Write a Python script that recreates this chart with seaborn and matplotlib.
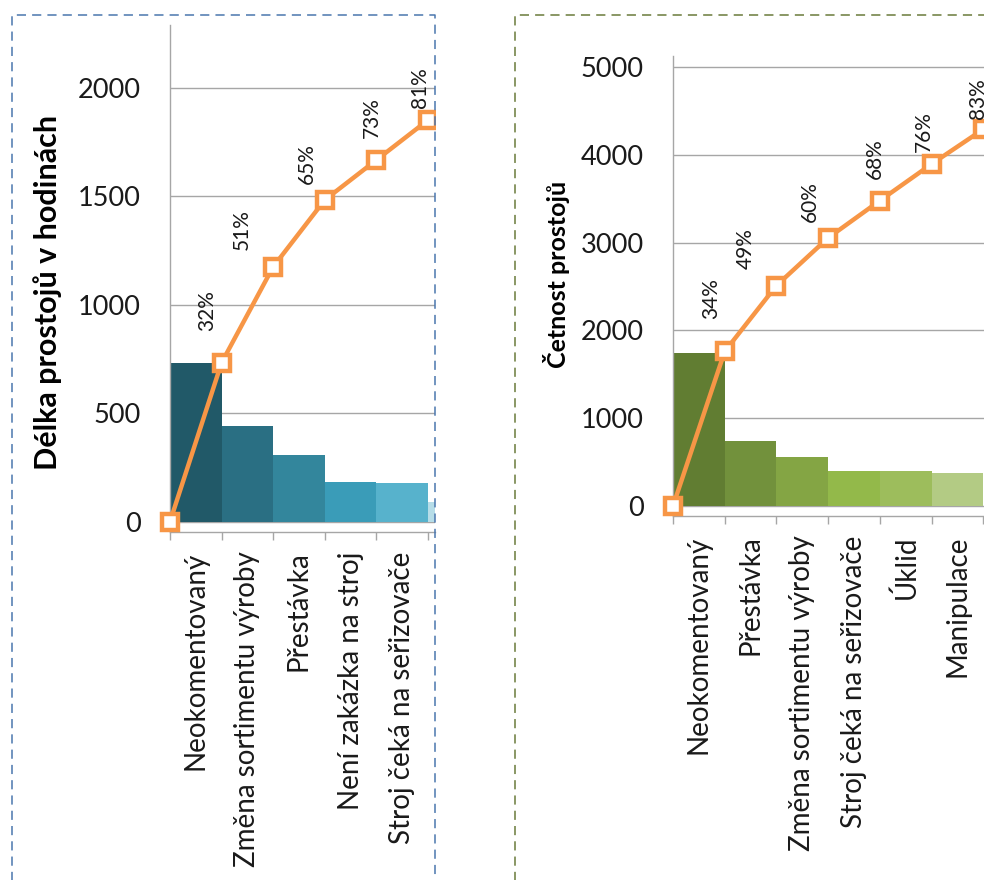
import numpy as np
import pandas as pd
import matplotlib
matplotlib.use('Agg')
import matplotlib.pyplot as plt
import seaborn as sns
from matplotlib.lines import Line2D
from matplotlib.transforms import Bbox, TransformedBbox

# levy graf - delka prostoju v hodinach (posledni sloupec je v obrazku oriznuty)
hours_cats = ['Neokomentovaný', 'Změna sortimentu výroby', 'Přestávka',
              'Není zakázka na stroj', 'Stroj čeká na seřizovače', '']
hours_vals = [730, 440, 305, 182, 176, 90]
hours_cum = [0, 732, 1174, 1482, 1666, 1850, 1940]
hours_pct = ['32%', '51%', '65%', '73%', '81%']

# pravy graf - cetnost prostoju
count_cats = ['Neokomentovaný', 'Přestávka', 'Změna sortimentu výroby',
              'Stroj čeká na seřizovače', 'Úklid', 'Manipulace']
count_vals = [1745, 740, 555, 400, 400, 372]
count_cum = [0, 1760, 2510, 3053, 3477, 3894, 4290]
count_pct = ['34%', '49%', '60%', '68%', '76%', '83%']

hours_colors = ['#215968', '#2a6f83', '#33869c', '#3a9cb8', '#57b2cc', '#b6dde8']
count_colors = ['#617d32', '#72913c', '#84a544', '#93b94a', '#9dbd5c', '#b3cb84']
orange = '#f79646'
grid_col = '#a6a6a6'

sns.set_theme(style='white')
plt.rcParams['font.family'] = ['Lato', 'DejaVu Sans']

W, H = 984, 880
fig = plt.figure(figsize=(W / 100, H / 100), dpi=100)
fig.patch.set_facecolor('white')


def box(l, t, r, b):
    return [l / W, 1 - b / H, (r - l) / W, (b - t) / H]


# posun popisku procent (px) - Excel je klade nepravidelne
label_dx = [-14, -31, -18, -5, -8, -5]
label_dy = [32, 17, 16, 22, 12, 10]


def pareto(ax, cats, vals, cum, pct, colors, ylim, yticks, xmax, clip_px=None):
    df = pd.DataFrame({'kat': cats, 'val': vals})
    sns.barplot(data=df, x='kat', y='val', hue='kat', palette=colors, width=1.0,
                linewidth=0, saturation=1, legend=False, ax=ax, zorder=2)
    edges = np.arange(len(cum)) - 0.5
    line = pd.DataFrame({'x': edges, 'y': cum})
    sns.lineplot(data=line, x='x', y='y', color=orange, lw=3.2, marker='s', markersize=11,
                 markerfacecolor='white', markeredgecolor=orange, markeredgewidth=3.2,
                 ax=ax, zorder=5, sort=False)
    ln = ax.lines[-1]
    if clip_px is None:
        ln.set_clip_on(False)
    else:
        # orez jen vpravo (okraj grafu), prvni znacka muze presahovat osu
        ln.set_clip_box(TransformedBbox(Bbox([[0, -1], [clip_px / W, 2]]), fig.transFigure))
    for k, txt in enumerate(pct):
        ax.annotate(txt, (edges[k + 1], cum[k + 1]), xytext=(label_dx[k], label_dy[k]),
                    textcoords='offset pixels', rotation=90, ha='center', va='bottom',
                    fontsize=15, color='#1a1a1a', zorder=6)

    ax.set_yticks(yticks)
    ax.yaxis.grid(True, color=grid_col, lw=1)
    ax.set_axisbelow(True)
    for s in ['top', 'right']:
        ax.spines[s].set_visible(False)
    for s in ['left', 'bottom']:
        ax.spines[s].set_color(grid_col)
        ax.spines[s].set_linewidth(1)
    ax.set_xticks(np.arange(len(cats)))
    ax.set_xticklabels(cats, rotation=90, ha='center', va='top')
    ax.set_xticks(edges[:len(cats) + 1], minor=True)
    ax.tick_params(axis='x', which='major', length=0, pad=14, labelsize=20, labelcolor='#1a1a1a')
    ax.tick_params(axis='x', which='minor', length=6, width=1, color=grid_col, direction='out',
                   bottom=True)
    ax.tick_params(axis='y', length=0, pad=21, labelsize=19.5, labelcolor='#1a1a1a')
    ax.set_xlabel('')
    ax.set_ylabel('')
    # limity az po nastaveni ticku, jinak je set_xticks roztahne
    ax.set_xlim(-0.5, xmax)
    ax.set_ylim(*ylim)


ax1 = fig.add_axes(box(170, 25, 435, 532))
pareto(ax1, hours_cats, hours_vals, hours_cum, hours_pct, hours_colors,
       (-48, 2288), [0, 500, 1000, 1500, 2000], -0.5 + 265 / 51.6, clip_px=435)

ax2 = fig.add_axes(box(673, 56, 673 + 7 * 51.7, 516))
pareto(ax2, count_cats, count_vals, count_cum, count_pct, count_colors,
       (-114, 5125), [0, 1000, 2000, 3000, 4000, 5000], 6.5)

fig.text(48 / W, 1 - 292 / H, 'Délka prostojů v hodinách', rotation=90, ha='center',
         va='center', fontsize=22, fontweight='bold', color='black')
fig.text(556 / W, 1 - 274 / H, 'Četnost prostojů', rotation=90, ha='center',
         va='center', fontsize=18, fontweight='bold', color='black')

# carkovane ramecky grafu
fig.add_artist(Line2D([12 / W, 12 / W, 435 / W, 435 / W],
                      [1 - 900 / H, 1 - 15 / H, 1 - 15 / H, 1 - 900 / H],
                      transform=fig.transFigure, color='#4a76ae', lw=1.1, ls=(0, (6, 4))))
fig.add_artist(Line2D([515 / W, 515 / W, 1000 / W],
                      [1 - 900 / H, 1 - 15 / H, 1 - 15 / H],
                      transform=fig.transFigure, color='#6a7a3a', lw=1.1, ls=(0, (6, 4))))

plt.savefig('out.png', dpi=100)
